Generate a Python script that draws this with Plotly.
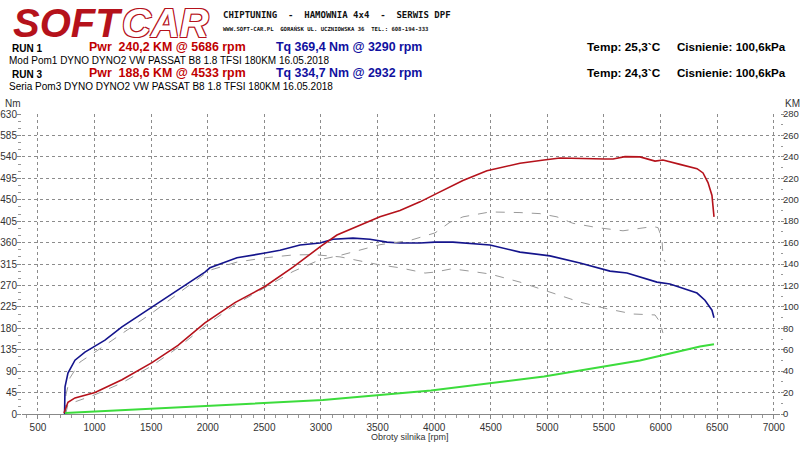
import plotly.graph_objects as go

# run 1 - solid lines
rpm_tq1 = [735, 739, 765, 827, 915, 1004, 1092, 1242, 1507, 1737, 1975, 2019, 2258, 2505, 2638, 2815, 2991,
           3106, 3283, 3433, 3583, 3698, 3875, 4007, 4166, 4493, 4758, 5023, 5288, 5553, 5703, 5968, 6083,
           6322, 6392, 6454, 6472]
tq1 = [0, 57, 86, 113, 130, 143, 155, 183, 225, 260, 298, 307, 328, 338, 344, 355, 359,
       367, 369.4, 367, 361, 359, 359, 361, 361, 355, 340, 332, 317, 300, 296, 277, 273,
       254, 239, 218, 202]

rpm_pwr1 = [730, 765, 827, 1004, 1242, 1507, 1737, 1975, 2240, 2505, 2753, 2991, 3141, 3406, 3521, 3698,
            3875, 4007, 4254, 4466, 4758, 4970, 5111, 5509, 5580, 5686, 5818, 5951, 6021, 6171, 6322,
            6375, 6419, 6454, 6472]
pwr1 = [1, 11, 15, 20, 32, 48, 64, 85, 104, 119, 137, 156, 167, 179, 184, 190,
        198, 205, 218, 227, 234, 237, 239, 238, 238, 240.2, 240, 236, 237, 233, 229,
        225, 216, 204, 184]

rpm_loss = [739, 1489, 2240, 3018, 3972, 4970, 5818, 6348, 6472]
loss = [1, 5, 9, 13, 22, 35, 50, 63, 65]

# run 3 - dashed grey
rpm_tq3 = [745, 747, 783, 871, 1004, 1242, 1507, 1754, 2019, 2258, 2505, 2753, 2932, 3168, 3521, 3698,
           3919, 4007, 4157, 4316, 4493, 4758, 5023, 5288, 5527, 5756, 5951, 5995, 6021]
tq3 = [0, 40, 76, 109, 130, 168, 212, 256, 302, 319, 328, 334, 334.7, 330, 313, 307,
       296, 298, 305, 300, 294, 277, 256, 235, 221, 210, 208, 193, 170]

rpm_pwr3 = [745, 765, 1004, 1242, 1507, 1737, 1975, 2240, 2505, 2753, 2991, 3168, 3521, 3786, 4007, 4140,
            4254, 4493, 4758, 4935, 5085, 5226, 5438, 5668, 5933, 5977, 6012, 6021, 6039]
pwr3 = [0, 9, 18, 29, 45, 62, 82, 102, 118, 133, 144, 148, 158, 162, 169, 179,
        184, 188.6, 188, 187, 184, 178, 174, 171, 175, 174, 164, 148, 142]

x_ticks = list(range(500, 7001, 500))
nm_ticks = list(range(0, 631, 45))
km_ticks = list(range(0, 281, 20))

RED = "#b5121b"
BLUE = "#14148c"
GREY = "#9a9a9a"
FONT = "Liberation Sans, Arial, sans-serif"

# plot area in pixels: x 22..780, y 114..414
def px(x):
    return (x - 22) / 758


def py(y):
    return (414 - y) / 300


fig = go.Figure()
fig.add_trace(go.Scatter(x=rpm_tq3, y=tq3, mode="lines", line=dict(color=GREY, width=1, dash="dash")))
fig.add_trace(go.Scatter(x=rpm_pwr3, y=pwr3, yaxis="y2", mode="lines", line=dict(color=GREY, width=1, dash="dash")))
fig.add_trace(go.Scatter(x=rpm_loss, y=loss, yaxis="y2", mode="lines", line=dict(color="#3cdc3c", width=2)))
fig.add_trace(go.Scatter(x=rpm_pwr1, y=pwr1, yaxis="y2", mode="lines", line=dict(color=RED, width=1.6)))
fig.add_trace(go.Scatter(x=rpm_tq1, y=tq1, mode="lines", line=dict(color=BLUE, width=1.6)))

ann = []


def text(x, y, s, size, color="black", bold=False, anchor="left", family=FONT, **kw):
    ann.append(dict(x=px(x), y=py(y), xref="paper", yref="paper", text=s, showarrow=False,
                    xanchor=anchor, yanchor="middle",
                    font=dict(size=size, color=color, family=family, weight="bold" if bold else "normal", **kw)))


# logo + header
text(11, 23, "SOFT", 40, RED, True, style="italic")
text(120, 23, "CAR", 40, "white", True, style="italic",
     shadow="1px 1px 0 %s, -1px -1px 0 %s, 1px -1px 0 %s, -1px 1px 0 %s" % (RED, RED, RED, RED))
text(221, 15, "CHIPTUNING  -  HAMOWNIA 4x4  -  SERWIS DPF", 9, "#111", True, family="DejaVu Sans Mono")
text(221, 29, "WWW.SOFT-CAR.PL  GORAŃSK UL. UCZNIOWSKA 36  TEL.: 608-194-333", 5.6, "#111", True,
     family="DejaVu Sans Mono")

runs = [
    (47, "RUN 1", "Pwr  240,2 KM @ 5686 rpm", "Tq 369,4 Nm @ 3290 rpm", "Temp: 25,3`C",
     "Mod Pom1 DYNO DYNO2 VW PASSAT B8 1.8 TFSI 180KM 16.05.2018"),
    (73, "RUN 3", "Pwr  188,6 KM @ 4533 rpm", "Tq 334,7 Nm @ 2932 rpm", "Temp: 24,3`C",
     "Seria Pom3 DYNO DYNO2 VW PASSAT B8 1.8 TFSI 180KM 16.05.2018"),
]
for y, run, pwr, tq, temp, desc in runs:
    text(10, y + 1, run, 10, "black", True)
    text(87, y, pwr, 12.4, "#c00000", True)
    text(274, y, tq, 12.4, "#1010a0", True)
    text(585, y, temp, 11.8, "black", True)
    text(675, y, "Cisnienie: 100,6kPa", 11.6, "black", True)
    text(7, y + 14, desc, 10, "black")

text(3, 103, "Nm", 10, "#333")
text(783, 103, "KM", 10, "#333")
text(410, 437, "Obroty silnika [rpm]", 9, "#333", anchor="center")

shapes = [
    dict(type="rect", x0=px(0), x1=px(470), y0=py(0), y1=py(40), line=dict(width=0), fillcolor="#f7f7f7",
         layer="below"),
    dict(type="line", x0=px(52), x1=px(72), y0=py(48), y1=py(48), line=dict(color="black", width=1.2)),
    dict(type="line", x0=px(52), x1=px(72), y0=py(74), y1=py(74), line=dict(color=GREY, width=1, dash="dot")),
    dict(type="rect", x0=px(1), x1=px(797), y0=py(93), y1=py(440), line=dict(color="#8a8a8a", width=1.5)),
    dict(type="rect", x0=px(1), x1=px(797), y0=py(443), y1=py(452), line=dict(color="#8a8a8a", width=1.5)),
    dict(type="line", x0=px(22), x1=px(22), y0=py(100), y1=py(416), line=dict(color="#888", width=1)),
    dict(type="line", x0=px(780), x1=px(780), y0=py(100), y1=py(416), line=dict(color="#888", width=1)),
]

tickfont = dict(size=10, color="#333", family=FONT)
fig.update_layout(
    width=800, height=450,
    margin=dict(l=22, r=20, t=114, b=36, autoexpand=False),
    paper_bgcolor="white", plot_bgcolor="white",
    showlegend=False,
    annotations=ann, shapes=shapes,
    xaxis=dict(range=[359, 7055], tickvals=x_ticks, showgrid=True, gridcolor="#8c8c8c", griddash="dot",
               gridwidth=1, zeroline=False, showline=True, linecolor="#888", ticks="outside", ticklen=4,
               tickcolor="#888", tickfont=tickfont, automargin=False,
               minor=dict(dtick=100, ticks="outside", ticklen=3, tickcolor="#999", showgrid=False)),
    yaxis=dict(range=[0, 630], tickvals=nm_ticks, showgrid=True, gridcolor="#8c8c8c", griddash="dot",
               gridwidth=1, zeroline=False, showline=False, ticks="outside", ticklen=4, tickcolor="#888",
               tickfont=tickfont, automargin=False, ticklabelstandoff=-2,
               minor=dict(dtick=15, ticks="outside", ticklen=3, tickcolor="#999", showgrid=False)),
    yaxis2=dict(range=[0, 280], tickvals=km_ticks, overlaying="y", side="right", showgrid=False,
                zeroline=False, showline=False, ticks="outside", ticklen=3, tickcolor="#888",
                tickfont=dict(size=9.5, color="#333", family=FONT), automargin=False, ticklabelstandoff=-3,
                minor=dict(dtick=10, ticks="outside", ticklen=2, tickcolor="#999")),
)

# the page body has a default 8px margin, drop it so the 800x450 figure fills the window
fig.write_html("out.html", config={"displayModeBar": False},
               post_script="document.body.style.margin = '0';")
